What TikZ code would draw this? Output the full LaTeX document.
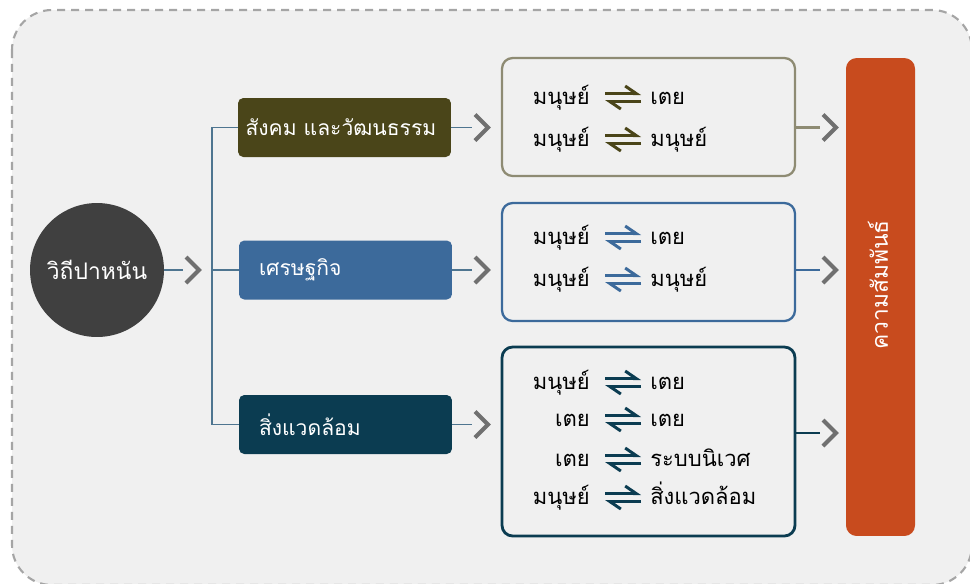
\documentclass[tikz,border=0pt]{standalone}
\usepackage{fontspec}
\setmainfont[Script=Thai]{Loma}
\usepackage{tikz}
\usetikzlibrary{arrows.meta,positioning}

\definecolor{bgfill}{HTML}{F0F0F0}
\definecolor{bgline}{HTML}{A5A5A5}
\definecolor{circcol}{HTML}{404040}
\definecolor{olive}{HTML}{4A4519}
\definecolor{olivegray}{HTML}{8E8B73}
\definecolor{econblue}{HTML}{3C6A9B}
\definecolor{envteal}{HTML}{0B3C51}
\definecolor{barcol}{HTML}{C84B1E}
\definecolor{chevcol}{HTML}{707070}
\definecolor{linkcol}{HTML}{4E7590}

\begin{document}
\begin{tikzpicture}[x=0.02cm, y=-0.02cm,
  cat/.style={rounded corners=3pt, text=white, font=\fontsize{12}{15}\selectfont,
    minimum height=1.18cm, text width=3.46cm, inner xsep=0.4cm, align=left},
  relbox/.style={draw, rounded corners=6pt, minimum width=5.86cm},
  word/.style={font=\fontsize{12.5}{15}\selectfont, inner sep=0pt},
  harp/.style={line width=1.7pt, -{Straight Barb[harpoon,length=0.22cm,width=0.3cm]}},
  link/.style={line width=0.8pt, linkcol},
  outlink/.style={line width=1.5pt},
  chev/.style={line width=2.3pt, chevcol}]
\useasboundingbox (0,0) rectangle (970,583);
%\draw (0,0) grid[step=50] (970,583);
\draw[bgline, fill=bgfill, line width=1.2pt, dash pattern=on 0.16cm off 0.12cm, rounded corners=0.8cm]
  (12,10) rectangle (972,585);

\path (97,270) node[circle, fill=circcol, minimum size=2.68cm, inner sep=0pt, text=white,
  font=\fontsize{13}{16}\selectfont] (circ) {วิถีปาหนัน};

\path (344.5,127.5) node[cat, fill=olive, text width=3.96cm, inner xsep=0.15cm] (soc) {สังคม และวัฒนธรรม};
\path (345.5,270) node[cat, fill=econblue] (eco) {เศรษฐกิจ};
\path (345.5,424.5) node[cat, fill=envteal] (env) {สิ่งแวดล้อม};

\path (648.5,117) node[relbox, olivegray, line width=1.3pt, minimum height=2.36cm] (rel1) {};
\path (648.5,262) node[relbox, econblue, line width=1.3pt, minimum height=2.36cm] (rel2) {};
\path (648.5,441.5) node[relbox, envteal, line width=1.6pt, minimum height=3.78cm] (rel3) {};

\path (880.5,297) node[fill=barcol, rounded corners=6pt, minimum width=1.38cm,
  minimum height=9.56cm] (bar) {};
\path (878,285) node[rotate=90, text=white, font=\fontsize{13}{16}\selectfont] (bartxt) {ความสัมพันธ์};

% tree
\coordinate (fork) at (212,270);
\draw[link] (soc.west) -| (fork) |- (env.west);
\draw[link] (fork) -- (eco.west);

% links and chevrons
\coordinate (k0) at (183,270);
\coordinate (k1) at (472,127.5);
\coordinate (k2) at (472,270);
\coordinate (k3) at (472,424.5);
\coordinate (m1) at (820,127.5);
\coordinate (m2) at (820,270);
\coordinate (m3) at (820,433);
\draw[link] (circ) -- (k0);
\draw[link] (soc) -- (k1);
\draw[link] (eco) -- (k2);
\draw[link] (env) -- (k3);
\draw[outlink, olivegray] (rel1.east |- m1) -- (m1);
\draw[outlink, econblue] (rel2.east |- m2) -- (m2);
\draw[outlink, envteal] (rel3.east |- m3) -- (m3);
\foreach \k in {k0,k1,k2,k3,m1,m2,m3}
  \draw[chev] ([shift={(3,-13)}]\k) -- ([shift={(16,0)}]\k) -- ([shift={(3,13)}]\k);

% relations
\foreach \n/\y/\a/\b/\c in {a1/104/มนุษย์/เตย/olive, a2/146/มนุษย์/มนุษย์/olive,
    b1/244/มนุษย์/เตย/econblue, b2/286/มนุษย์/มนุษย์/econblue,
    c1/389/มนุษย์/เตย/envteal, c2/426/เตย/เตย/envteal,
    c3/466/เตย/ระบบนิเวศ/envteal, c4/504/มนุษย์/สิ่งแวดล้อม/envteal}{
  \path (590,\y) node[word, anchor=base east] (l\n) {\a};
  \path (650,\y) node[word, anchor=base west] (r\n) {\b};
  \draw[harp, \c] ([xshift=0.3cm, yshift=0.21cm]l\n.base east) -- ([xshift=-0.18cm, yshift=0.21cm]r\n.base west);
  \draw[harp, \c] ([xshift=-0.18cm, yshift=0.05cm]r\n.base west) -- ([xshift=0.3cm, yshift=0.05cm]l\n.base east);
}
\end{tikzpicture}
\end{document}
